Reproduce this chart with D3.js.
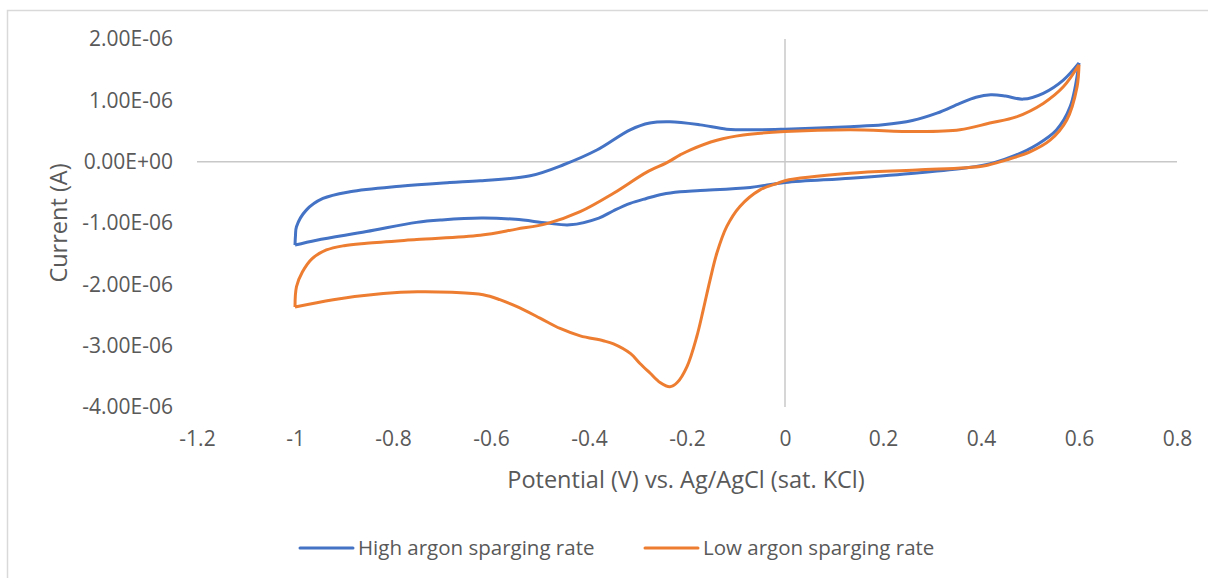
<!DOCTYPE html>
<html>
<head>
<meta charset="utf-8">
<script src="https://cdn.jsdelivr.net/npm/d3@7"></script>
<style>
  body { margin: 0; background: #fff; }
  text { font-family: "Open Sans", sans-serif; fill: #595959; }
</style>
</head>
<body>
<div id="chart"></div>
<script>
// CV data, potential in V and current in microamps
const potentialHigh = [0.6, 0.582, 0.554, 0.513, 0.472, 0.425, 0.371, 0.269, 0.133, 0, -0.071, -0.173, -0.214, -0.25, -0.283, -0.316, -0.35, -0.38, -0.439, -0.486, -0.55, -0.62, -0.7, -0.752, -0.854, -0.956, -1.0,
  -0.999, -0.997, -0.977, -0.943, -0.888, -0.786, -0.684, -0.622, -0.52, -0.452, -0.384, -0.316, -0.276, -0.235, -0.173, -0.119, -0.058, 0, 0.133, 0.2, 0.26, 0.31, 0.357, 0.39, 0.42, 0.45, 0.486, 0.527, 0.568, 0.6];
const currentHigh = [1.61, 0.897, 0.517, 0.272, 0.109, -0.02, -0.10, -0.185, -0.27, -0.34, -0.42, -0.47, -0.49, -0.53, -0.6, -0.68, -0.8, -0.92, -1.03, -1.0, -0.94, -0.92, -0.95, -0.99, -1.14, -1.28, -1.36,
  -1.2, -1.06, -0.79, -0.60, -0.49, -0.40, -0.34, -0.31, -0.23, -0.05, 0.19, 0.52, 0.63, 0.65, 0.6, 0.53, 0.52, 0.53, 0.57, 0.6, 0.67, 0.79, 0.95, 1.05, 1.09, 1.07, 1.02, 1.115, 1.33, 1.61];

const potentialLow = [0.6, 0.596, 0.575, 0.541, 0.5, 0.452, 0.405, 0.269, 0.133, 0, -0.014, -0.051, -0.092, -0.119, -0.139, -0.153, -0.167, -0.18, -0.2, -0.22, -0.235, -0.255, -0.275, -0.296, -0.315, -0.35, -0.371, -0.418, -0.459, -0.5, -0.548, -0.582, -0.616, -0.68, -0.75, -0.82, -0.922, -1.0,
  -0.997, -0.985, -0.965, -0.936, -0.9, -0.854, -0.752, -0.622, -0.548, -0.486, -0.418, -0.35, -0.282, -0.242, -0.214, -0.194, -0.139, -0.085, 0, 0.133, 0.269, 0.357, 0.418, 0.472, 0.527, 0.568, 0.6];
const currentLow = [1.58, 1.22, 0.68, 0.35, 0.16, 0.03, -0.07, -0.135, -0.19, -0.31, -0.35, -0.46, -0.73, -1.06, -1.49, -1.93, -2.42, -2.85, -3.34, -3.6, -3.67, -3.6, -3.45, -3.29, -3.13, -2.97, -2.92, -2.84, -2.72, -2.55, -2.36, -2.25, -2.17, -2.13, -2.12, -2.15, -2.25, -2.37,
  -2.04, -1.8, -1.58, -1.44, -1.37, -1.33, -1.27, -1.2, -1.10, -1.01, -0.815, -0.515, -0.17, -0.02, 0.11, 0.19, 0.35, 0.435, 0.49, 0.52, 0.49, 0.52, 0.63, 0.73, 0.95, 1.22, 1.58];

const seriesNames = ["High argon sparging rate", "Low argon sparging rate"];
const seriesColors = ["#4472C4", "#ED7D31"];
const xTicks = [-1.2, -1, -0.8, -0.6, -0.4, -0.2, 0, 0.2, 0.4, 0.6, 0.8];
const yTicks = [-4e-6, -3e-6, -2e-6, -1e-6, 0, 1e-6, 2e-6];

const width = 1208, height = 578;

const svg = d3.select("#chart").append("svg")
  .attr("width", width)
  .attr("height", height);

// chart frame (runs off the right and bottom of the picture)
svg.append("rect")
  .attr("x", 7.5).attr("y", 10.5)
  .attr("width", 1300).attr("height", 700)
  .attr("fill", "#fff")
  .attr("stroke", "#d9d9d9")
  .attr("stroke-width", 1.5);

const x = d3.scaleLinear().domain([-1.2, 0.8]).range([197, 1177]);
const y = d3.scaleLinear().domain([-4e-6, 2e-6]).range([407, 39]);

// Excel style scientific labels: 2.00E-06
function sci(v) {
  if (v === 0) return "0.00E+00";
  const e = Math.floor(Math.log10(Math.abs(v)) + 1e-9);
  const m = v / Math.pow(10, e);
  const sign = e < 0 ? "-" : "+";
  return m.toFixed(2) + "E" + sign + String(Math.abs(e)).padStart(2, "0");
}

// zero lines
svg.append("line")
  .attr("x1", x(-1.2)).attr("x2", x(0.8))
  .attr("y1", y(0)).attr("y2", y(0))
  .attr("stroke", "#c8c8c8").attr("stroke-width", 1.5);
svg.append("line")
  .attr("x1", x(0)).attr("x2", x(0))
  .attr("y1", y(2e-6)).attr("y2", y(-4e-6))
  .attr("stroke", "#c8c8c8").attr("stroke-width", 1.5);

const xAxis = svg.append("g")
  .attr("transform", `translate(0, ${y(-4e-6)})`)
  .call(d3.axisBottom(x).tickValues(xTicks).tickSize(0).tickPadding(24)
    .tickFormat(d => String(+d.toFixed(1))));
const yAxis = svg.append("g")
  .attr("transform", `translate(${x(-1.2)}, 0)`)
  .call(d3.axisLeft(y).tickValues(yTicks).tickSize(0).tickPadding(24).tickFormat(sci));

[xAxis, yAxis].forEach(g => {
  g.select(".domain").remove();
  g.selectAll("text")
    .style("font-family", '"Open Sans", sans-serif')
    .style("font-size", "21px")
    .attr("fill", "#595959");
});

// axis titles
svg.append("text")
  .attr("x", 686).attr("y", 488)
  .attr("text-anchor", "middle")
  .style("font-size", "23.5px")
  .text("Potential (V) vs. Ag/AgCl (sat. KCl)");
svg.append("text")
  .attr("transform", "translate(67, 223) rotate(-90)")
  .attr("text-anchor", "middle")
  .style("font-size", "23.5px")
  .text("Current (A)");

// the two CV loops, each drawn as two sweeps so the turning points stay sharp
const line = d3.line()
  .x(d => x(d[0]))
  .y(d => y(d[1] * 1e-6))
  .curve(d3.curveCatmullRom.alpha(0.5));

function loopPath(pts) {
  const turn = d3.minIndex(pts, d => d[0]);
  return line(pts.slice(0, turn + 1)) + line(pts.slice(turn));
}

const series = [
  d3.zip(potentialHigh, currentHigh),
  d3.zip(potentialLow, currentLow)
];

svg.selectAll("path.cv")
  .data(series)
  .join("path")
  .attr("class", "cv")
  .attr("d", loopPath)
  .attr("fill", "none")
  .attr("stroke", (d, i) => seriesColors[i])
  .attr("stroke-width", 3)
  .attr("stroke-linejoin", "round");

// legend
const legendX = [300, 645];
const legend = svg.selectAll("g.legend")
  .data(seriesNames)
  .join("g")
  .attr("class", "legend")
  .attr("transform", (d, i) => `translate(${legendX[i]}, 548)`);
legend.append("line")
  .attr("x1", 0).attr("x2", 53)
  .attr("stroke", (d, i) => seriesColors[i])
  .attr("stroke-width", 3)
  .attr("stroke-linecap", "round");
legend.append("text")
  .attr("x", 58).attr("dy", "0.35em")
  .style("font-size", "20.5px")
  .text(d => d);
</script>
</body>
</html>
